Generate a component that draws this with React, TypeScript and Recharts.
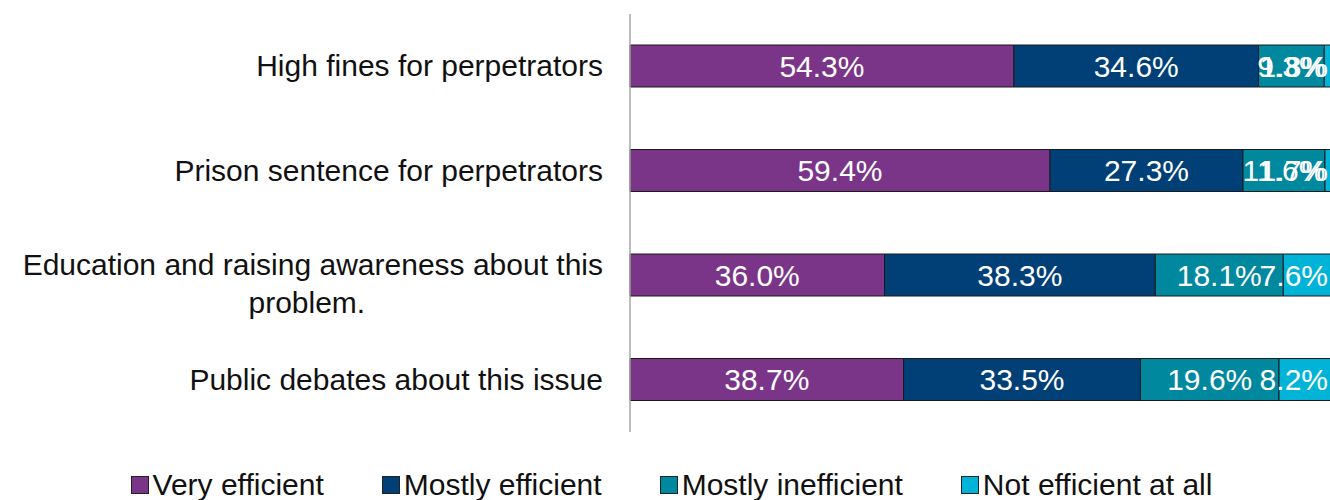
import React from 'react';
import { BarChart, Bar, XAxis, YAxis, Legend, LabelList } from 'recharts';

const categories = [
  'High fines for perpetrators',
  'Prison sentence for perpetrators',
  'Education and raising awareness about this problem.',
  'Public debates about this issue',
];
const veryEfficient = [54.3, 59.4, 36.0, 38.7];
const mostlyEfficient = [34.6, 27.3, 38.3, 33.5];
const mostlyInefficient = [9.3, 11.6, 18.1, 19.6];
const notEfficient = [1.8, 1.7, 7.6, 8.2];

const seriesNames = ['Very efficient', 'Mostly efficient', 'Mostly inefficient', 'Not efficient at all'];
const seriesKeys = ['very', 'mostly', 'inefficient', 'not'];
const colors = ['#7A3589', '#004077', '#00889E', '#00B3D7'];

const data = categories.map((name, i) => ({
  name,
  very: veryEfficient[i],
  mostly: mostlyEfficient[i],
  inefficient: mostlyInefficient[i],
  not: notEfficient[i],
}));

const FONT = '"Liberation Sans", Arial, sans-serif';
const FONT_SIZE = 30;

let ctx: CanvasRenderingContext2D | null = null;
const measure = (s: string) => {
  if (!ctx) {
    ctx = document.createElement('canvas').getContext('2d');
  }
  if (!ctx) return s.length * FONT_SIZE * 0.5;
  ctx.font = `${FONT_SIZE}px ${FONT}`;
  return ctx.measureText(s).width;
};

const wrap = (text: string, maxWidth: number) => {
  const words = text.split(' ');
  const lines: string[] = [];
  let cur = '';
  words.forEach((w) => {
    const next = cur ? cur + ' ' + w : w;
    if (cur && measure(next) > maxWidth) {
      lines.push(cur);
      cur = w;
    } else {
      cur = next;
    }
  });
  if (cur) lines.push(cur);
  return lines;
};

const CategoryTick = (props: any) => {
  const { x, y, payload } = props;
  const lines = wrap(payload.value, 600);
  if (lines.length === 1) {
    return (
      <text x={x} y={y + 10} textAnchor="end" fill="#111" fontSize={FONT_SIZE} fontFamily={FONT}>
        {lines[0]}
      </text>
    );
  }
  const maxW = Math.max(...lines.map(measure));
  const cx = x - maxW / 2 - 6;
  return (
    <text textAnchor="middle" fill="#111" fontSize={FONT_SIZE} fontFamily={FONT}>
      {lines.map((l, i) => (
        <tspan key={i} x={i === 0 ? x : cx} y={y + 10 - (lines.length - 1) * 10 + i * 38} textAnchor={i === 0 ? 'end' : 'middle'}>
          {l}
        </tspan>
      ))}
    </text>
  );
};

const fmt = (v: any) => `${Number(v).toFixed(1)}%`;

// last segment runs off the right edge, keep its label inside the picture
const EdgeLabel = (props: any) => {
  const { x, y, width, height, value } = props;
  return (
    <text
      x={x + width - 9}
      y={y + height / 2}
      textAnchor="end"
      dominantBaseline="central"
      fill="#fff"
      fontSize={FONT_SIZE}
      fontFamily={FONT}
    >
      {fmt(value)}
    </text>
  );
};

const LegendContent = () => (
  <div
    style={{
      display: 'flex',
      justifyContent: 'center',
      gap: 58,
      paddingTop: 38,
      height: 30,
      fontFamily: FONT,
      fontSize: FONT_SIZE,
      color: '#111',
      lineHeight: '28px',
      marginLeft: 6,
    }}
  >
    {seriesNames.map((n, i) => (
      <div key={n} style={{ display: 'flex', alignItems: 'center', whiteSpace: 'nowrap' }}>
        <span
          style={{
            display: 'inline-block',
            width: 16,
            height: 16,
            background: colors[i],
            border: '1px solid #222',
            marginRight: 4,
          }}
        />
        {n}
      </div>
    ))}
  </div>
);

export default function App() {
  return (
    <div style={{ position: 'absolute', left: 0, top: 0, width: 1330, height: 500, background: '#fff', overflow: 'hidden' }}>
      <BarChart
        width={1330}
        height={500}
        data={data}
        layout="vertical"
        barSize={42}
        margin={{ top: 14, right: -7, bottom: 0, left: 0 }}
      >
        <XAxis type="number" domain={[0, 100]} hide />
        <YAxis
          type="category"
          dataKey="name"
          width={630}
          tickLine={false}
          tickMargin={21}
          axisLine={{ stroke: '#a6a6a6', strokeWidth: 1.5 }}
          tick={<CategoryTick />}
          interval={0}
        />
        <Legend verticalAlign="bottom" content={<LegendContent />} />
        {seriesKeys.map((k, i) => (
          <Bar
            key={k}
            dataKey={k}
            name={seriesNames[i]}
            stackId="a"
            fill={colors[i]}
            stroke="#1a1a1a"
            strokeWidth={1}
            isAnimationActive={false}
          >
            {i === 3 ? (
              <LabelList dataKey={k} content={<EdgeLabel />} />
            ) : (
              <LabelList
                dataKey={k}
                position="center"
                formatter={fmt}
                fill="#fff"
                fontSize={FONT_SIZE}
                fontFamily={FONT}
              />
            )}
          </Bar>
        ))}
      </BarChart>
    </div>
  );
}
